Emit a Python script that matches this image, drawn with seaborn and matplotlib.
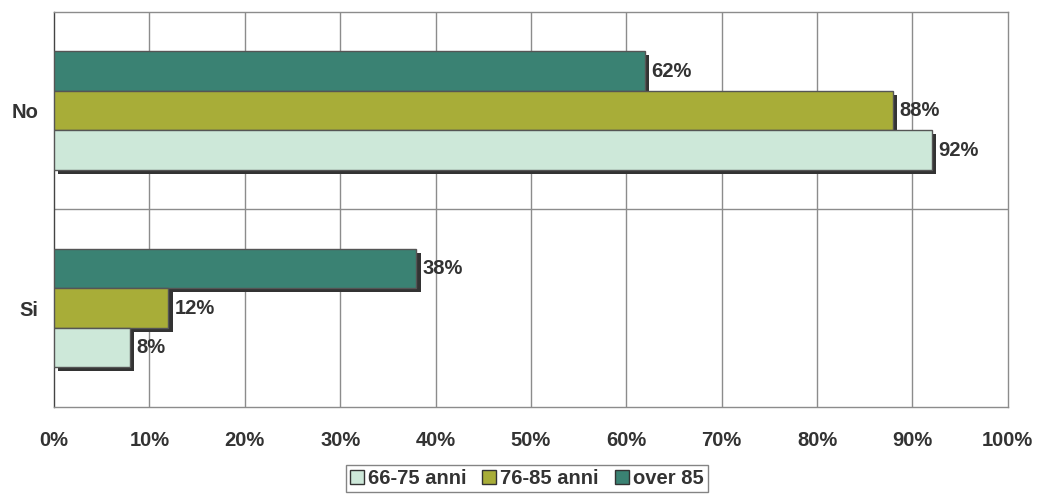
import matplotlib
matplotlib.use("Agg")
import matplotlib.pyplot as plt
import matplotlib.patheffects as pe
from matplotlib.patches import Patch
import pandas as pd
import seaborn as sns

# Answers and age groups
categories = ["No", "Si"]
groups = ["66-75 anni", "76-85 anni", "over 85"]
values_66_75 = [92, 8]
values_76_85 = [88, 12]
values_over85 = [62, 38]
x_ticks = list(range(0, 101, 10))
x_tick_labels = [f"{t}%" for t in x_ticks]

palette = {"66-75 anni": "#cde8d9", "76-85 anni": "#a8ad38", "over 85": "#3a8273"}
text_color = "#333333"
fs = 14.5

rows = []
for g, vals in zip(groups, [values_66_75, values_76_85, values_over85]):
    for c, v in zip(categories, vals):
        rows.append({"risposta": c, "gruppo": g, "valore": v})
df = pd.DataFrame(rows)

sns.set_theme(style="white")
plt.rcParams["font.family"] = ["Liberation Sans", "DejaVu Sans"]
plt.rcParams["font.weight"] = "bold"

fig = plt.figure(figsize=(10.39, 4.95), dpi=100)
ax = fig.add_axes([0.052, 0.178, 0.918, 0.798])

# top bar in each group is "over 85"
draw_order = ["over 85", "76-85 anni", "66-75 anni"]
sns.barplot(data=df, y="risposta", x="valore", hue="gruppo", order=categories,
            hue_order=draw_order, palette=palette, saturation=1, orient="h", width=0.6,
            edgecolor="#555555", linewidth=1.0, legend=False, ax=ax, zorder=3)

shadow = [pe.SimplePatchShadow(offset=(2.9, -2.9), shadow_rgbFace="#333333", alpha=1.0),
          pe.Normal()]
for cont in ax.containers:
    for bar in cont:
        bar.set_path_effects(shadow)
    ax.bar_label(cont, labels=[f"{v:.0f}%" for v in cont.datavalues], padding=4.5,
                 fontsize=fs, fontweight="bold", color=text_color, zorder=5)

ax.set_xlim(0, 100)
ax.set_ylim(1.5, -0.5)
ax.set_xticks(x_ticks)
ax.set_xticklabels(x_tick_labels, fontsize=fs, fontweight="bold", color=text_color)
ax.tick_params(axis="x", length=0, pad=17)
ax.tick_params(axis="y", length=0, pad=11.5, labelsize=fs, labelcolor=text_color)
for lbl in ax.get_yticklabels():
    lbl.set_fontweight("bold")
ax.set_xlabel("")
ax.set_ylabel("")

ax.grid(False)
for t in x_ticks[1:-1]:
    ax.axvline(t, color="#8c8c8c", lw=1.0, zorder=1)
ax.axhline(0.5, color="#8c8c8c", lw=1.0, zorder=1)
for side, sp in ax.spines.items():
    sp.set_visible(True)
    sp.set_color("#8c8c8c")
    sp.set_linewidth(1.0)
ax.spines["left"].set_color("#444444")

handles = [Patch(facecolor=palette[g], edgecolor="#333333", linewidth=1.0, label=g)
           for g in groups]
leg = fig.legend(handles=handles, loc="lower center", bbox_to_anchor=(0.507, 0.0),
                 ncol=3, frameon=True, fancybox=False, fontsize=fs,
                 handlelength=0.7, handleheight=0.7, handletextpad=0.2,
                 columnspacing=0.8, borderpad=0.2, borderaxespad=0.15)
leg.get_frame().set_edgecolor("#666666")
leg.get_frame().set_linewidth(1.0)
for t in leg.get_texts():
    t.set_color(text_color)
    t.set_fontweight("bold")

fig.savefig("out.png", dpi=100)
